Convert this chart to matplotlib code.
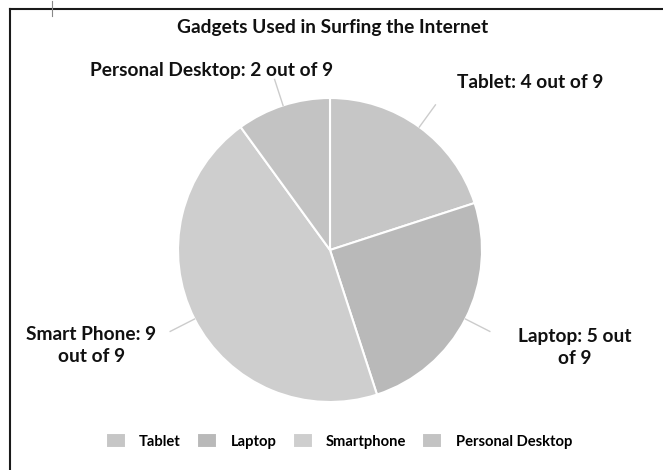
import matplotlib.pyplot as plt
import numpy as np
from matplotlib.lines import Line2D

plt.rcParams['font.family'] = ['Lato', 'DejaVu Sans']

# share of respondents per device (counts out of 9)
gadgets = ['Tablet', 'Laptop', 'Smartphone', 'Personal Desktop']
counts = [4, 5, 9, 2]
label_text = ['Tablet: 4 out of 9', 'Laptop: 5 out\nof 9',
              'Smart Phone: 9\nout of 9', 'Personal Desktop: 2 out of 9']
colors = ['#c6c6c6', '#b9b9b9', '#cecece', '#c3c3c3']

W, H = 663, 470
fig = plt.figure(figsize=(W / 100, H / 100), dpi=100)

# pie axes: centre (330, 250) px, radius 152 px
cx, cy, r = 330, 250, 152
ax = fig.add_axes([(cx - r) / W, (H - cy - r) / H, 2 * r / W, 2 * r / H])
wedges, _ = ax.pie(counts, colors=colors, startangle=90, counterclock=False,
                   wedgeprops=dict(edgecolor='white', linewidth=1.5))
ax.set_xlim(-1, 1)
ax.set_ylim(-1, 1)

# label positions in data units, relative to the pie
label_pos = [(1.32, 1.105), (1.61, -0.64), (-1.57, -0.63), (-0.776, 1.18)]
for w, txt, (lx, ly) in zip(wedges, label_text, label_pos):
    mid = np.deg2rad((w.theta1 + w.theta2) / 2)
    rr = np.array([1.0, 1.18])
    ax.plot(rr * np.cos(mid), rr * np.sin(mid), color='#cccccc', lw=1.0,
            clip_on=False)
    ax.text(lx, ly, txt, ha='center', va='center', fontsize=13.8,
            fontweight='bold', color='#111111', linespacing=1.35, clip_on=False)

fig.text(333 / W, 1 - 28 / H, 'Gadgets Used in Surfing the Internet',
         ha='center', va='center', fontsize=13.8, fontweight='bold',
         color='#111111')

fig.legend(wedges, gadgets, loc='center', bbox_to_anchor=(339 / W, 1 - 441 / H),
           ncol=4, frameon=False, handlelength=1.36, handleheight=1.1,
           handletextpad=0.9, columnspacing=1.1,
           prop=dict(size=10.6, weight='bold'))

# page frame (top and left edges only)
fig.add_artist(Line2D([10 / W, 1], [1 - 9 / H, 1 - 9 / H], color='#1a1a1a',
                      lw=1.5, transform=fig.transFigure))
fig.add_artist(Line2D([10 / W, 10 / W], [0, 1 - 9 / H], color='#1a1a1a',
                      lw=1.5, transform=fig.transFigure))
fig.add_artist(Line2D([52 / W, 52 / W], [1 - 1 / H, 1 - 16 / H], color='#888888',
                      lw=0.8, transform=fig.transFigure))

fig.savefig('out.png', dpi=100)
